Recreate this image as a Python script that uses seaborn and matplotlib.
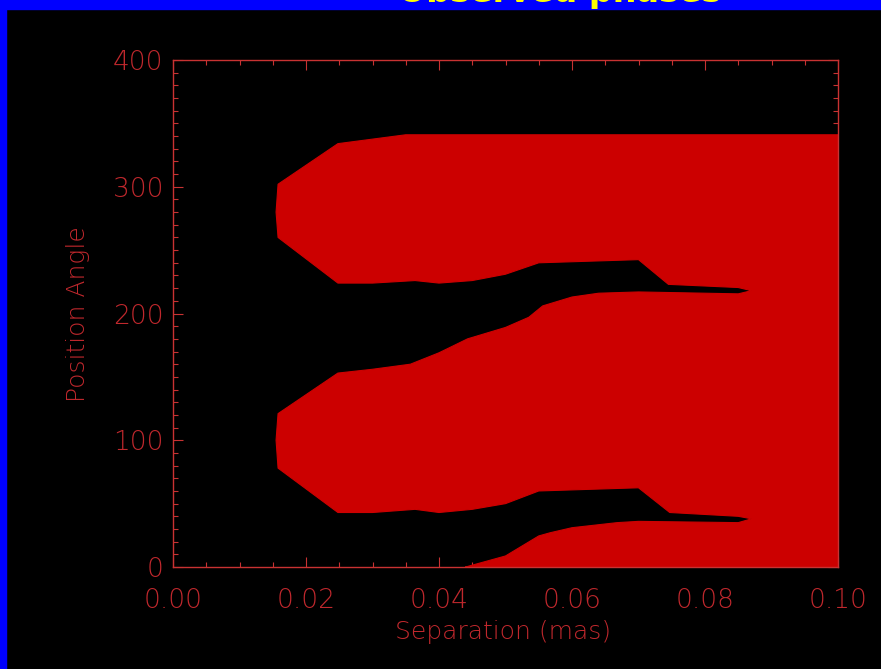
import matplotlib
matplotlib.use("Agg")
import matplotlib.pyplot as plt
import seaborn as sns
import pandas as pd
from matplotlib.patches import Rectangle
from matplotlib.ticker import MultipleLocator

# ---------------- data ----------------
title_text = "Observed phases"
x_label = "Separation (mas)"
y_label = "Position Angle"
x_ticks = [0.00, 0.02, 0.04, 0.06, 0.08, 0.10]
y_ticks = [0, 100, 200, 300, 400]

# start of the red region on the bottom axis and right edge
bottom_edge_x = [0.044, 0.100]
bottom_edge_y = [0, 0]
# outer envelope: right side, top and the upper lobe's rounded left end
envelope_x = [0.100, 0.035, 0.0248, 0.0158, 0.0155, 0.0158, 0.0248]
envelope_y = [341, 341, 334, 302, 280, 260, 224]
# upper black gap: its top edge (left -> right) and bottom edge (right -> left)
upper_gap_top_x = [0.030, 0.0364, 0.040, 0.045, 0.050, 0.055, 0.070, 0.0745, 0.085, 0.087]
upper_gap_top_y = [224, 226, 224, 226, 231, 240, 242.5, 223, 220.5, 218]
upper_gap_bot_x = [0.085, 0.070, 0.064, 0.060, 0.0556, 0.0535, 0.050, 0.0443, 0.040, 0.0357, 0.030, 0.0248]
upper_gap_bot_y = [215.5, 217, 216, 213, 206, 197, 189, 180, 169, 160, 156, 153]
# lower lobe's rounded left end
lower_lobe_x = [0.0158, 0.0155, 0.0158, 0.0248]
lower_lobe_y = [121, 100, 78, 43]
# lower black gap: top edge (left -> right) and bottom edge (right -> left)
lower_gap_top_x = [0.030, 0.0364, 0.040, 0.045, 0.050, 0.055, 0.070, 0.0747, 0.085, 0.087]
lower_gap_top_y = [43, 45.5, 43, 45.5, 50, 60, 62.5, 43, 40, 38]
lower_gap_bot_x = [0.085, 0.070, 0.0668, 0.060, 0.0567, 0.055, 0.050, 0.044]
lower_gap_bot_y = [35, 36, 35, 31, 27, 24.5, 8.7, 0]

# ---------------- style ----------------
sns.set_style("dark")
plt.rcParams["font.family"] = ["DejaVu Sans"]

RED_FILL = "#CC0000"
AX_RED = "#C83232"
TXT_RED = "#C0282D"

poly_x = (bottom_edge_x + envelope_x + upper_gap_top_x + upper_gap_bot_x
          + lower_lobe_x + lower_gap_top_x + lower_gap_bot_x)
poly_y = (bottom_edge_y + envelope_y + upper_gap_top_y + upper_gap_bot_y
          + lower_lobe_y + lower_gap_top_y + lower_gap_bot_y)
outline = pd.DataFrame({"sep": poly_x, "pa": poly_y})

fig = plt.figure(figsize=(8.81, 6.69), dpi=100, facecolor="black")
# blue frame strips
fig.patches.append(Rectangle((0, 1 - 9 / 669), 1, 9 / 669, transform=fig.transFigure,
                             color="#0000FF", zorder=0))
fig.patches.append(Rectangle((0, 0), 6 / 881, 1, transform=fig.transFigure,
                             color="#0000FF", zorder=0))

ax = fig.add_axes([173 / 881, 1 - 567 / 669, 665 / 881, 507 / 669])
ax.set_facecolor("black")

ax.fill(poly_x, poly_y, color=RED_FILL, lw=0, zorder=1)
sns.lineplot(data=outline, x="sep", y="pa", sort=False, estimator=None,
             errorbar=None, color=RED_FILL, lw=0.8, ax=ax, zorder=1,
             legend=False)

ax.set_xlim(0, 0.10)
ax.set_ylim(0, 400)
ax.set_xticks(x_ticks)
ax.set_yticks(y_ticks)
ax.set_xticklabels([f"{v:.2f}" for v in x_ticks])
ax.set_yticklabels([f"{v:d}" for v in y_ticks])
ax.xaxis.set_minor_locator(MultipleLocator(0.005))
ax.yaxis.set_minor_locator(MultipleLocator(10))
ax.grid(False)

for s in ax.spines.values():
    s.set_visible(True)
    s.set_color(AX_RED)
    s.set_linewidth(1.0)
    s.set_zorder(3)

ax.tick_params(which="both", direction="in", top=True, right=True,
               bottom=True, left=True, color=AX_RED, width=0.8)
ax.tick_params(which="major", length=7.5)
ax.tick_params(which="minor", length=3.6)
ax.tick_params(axis="x", which="major", pad=15, labelsize=19, labelcolor=TXT_RED)
ax.tick_params(axis="y", which="major", pad=7, labelsize=19, labelcolor=TXT_RED)
for lab in ax.get_xticklabels() + ax.get_yticklabels():
    lab.set_fontweight("light")

ax.set_xlabel(x_label, fontsize=18, color=TXT_RED, fontweight="light")
ax.set_ylabel(y_label, fontsize=18, color=TXT_RED, fontweight="light")
ax.xaxis.label.set_va("center")
ax.xaxis.set_label_coords(0.496, -0.128)
ax.yaxis.label.set_va("center")
ax.yaxis.label.set_ha("center")
ax.yaxis.set_label_coords(-0.143, 0.499)

fig.text(560 / 881, 1 - 2 / 669, title_text, color="#FFFF00", fontsize=24,
         fontweight="bold", ha="center", va="baseline", zorder=5)

fig.savefig("out.png", dpi=100, facecolor="black")
